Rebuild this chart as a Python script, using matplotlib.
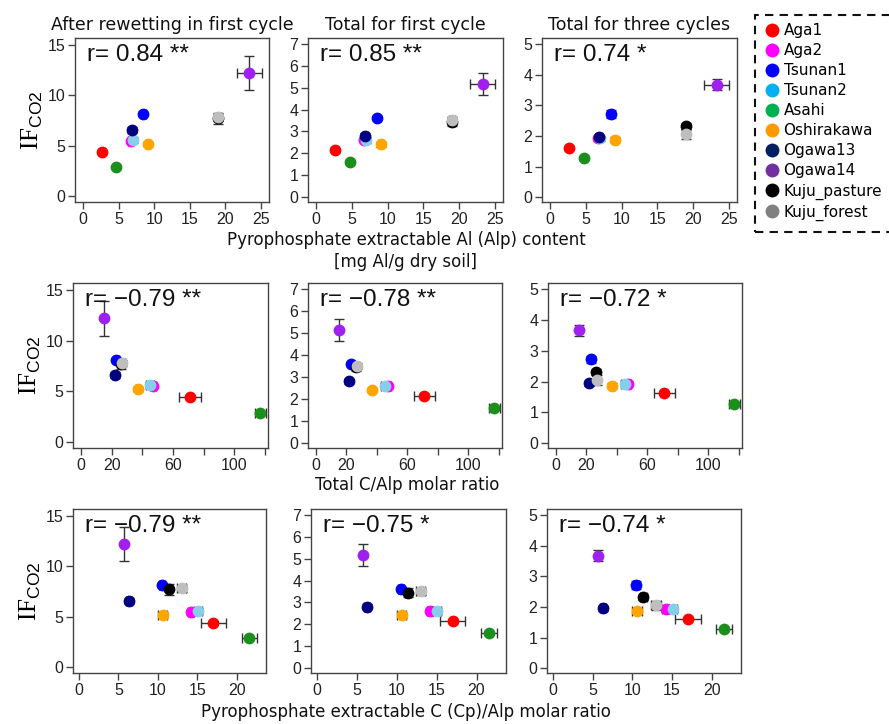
import numpy as np
import matplotlib.pyplot as plt
from matplotlib.patches import Rectangle
from matplotlib.lines import Line2D

plt.rcParams['mathtext.fontset'] = 'custom'
plt.rcParams['mathtext.rm'] = 'Liberation Serif'
plt.rcParams['mathtext.sf'] = 'Liberation Sans'

# Sites and colours (plot colours differ a bit from the legend ones)
sites = ['Aga1', 'Aga2', 'Tsunan1', 'Tsunan2', 'Asahi', 'Oshirakawa',
         'Ogawa13', 'Ogawa14', 'Kuju_pasture', 'Kuju_forest']
plot_colors = ['#FF0000', '#FF00FF', '#0000FF', '#87CEEB', '#1B8F1B',
               '#FFA500', '#000080', '#A020F0', '#000000', '#BEBEBE']
legend_colors = ['#FF0000', '#FF00FF', '#0000FF', '#00B0F0', '#00B050',
                 '#FF9900', '#002060', '#7030A0', '#000000', '#808080']

# x variables (one per row)
alp = [2.7, 6.7, 8.5, 7.0, 4.7, 9.1, 6.9, 23.3, 19.0, 19.0]
alp_err = [0.2, 0.3, 0.3, 0.3, 0.2, 0.3, 0.3, 1.75, 0.3, 0.4]
tc_alp = [71, 47, 23, 45, 117, 37, 22, 15, 26, 27]
tc_alp_err = [7, 2, 1.5, 2.5, 3.5, 1, 1, 1, 1, 1.5]
cp_alp = [17.0, 14.2, 10.5, 15.1, 21.6, 10.6, 6.3, 5.7, 11.4, 13.0]
cp_alp_err = [1.6, 0.4, 0.4, 0.5, 1.0, 0.6, 0.4, 0.2, 0.4, 0.6]

# y variables (one per column)
if_rewet = [4.4, 5.5, 8.1, 5.6, 2.9, 5.2, 6.6, 12.2, 7.7, 7.8]
if_rewet_err = [0.2, 0.2, 0.2, 0.3, 0.2, 0.2, 0.3, 1.7, 0.5, 0.3]
if_first = [2.15, 2.6, 3.6, 2.6, 1.6, 2.4, 2.8, 5.15, 3.45, 3.5]
if_first_err = [0.08, 0.1, 0.1, 0.12, 0.08, 0.1, 0.12, 0.5, 0.2, 0.15]
if_three = [1.62, 1.93, 2.72, 1.93, 1.27, 1.87, 1.95, 3.67, 2.31, 2.05]
if_three_err = [0.06, 0.08, 0.12, 0.08, 0.06, 0.08, 0.08, 0.18, 0.1, 0.15]

titles = ['After rewetting in first cycle', 'Total for first cycle',
          'Total for three cycles']
r_text = [['r= 0.84 **', 'r= 0.85 **', 'r= 0.74 *'],
          ['r= \u22120.79 **', 'r= \u22120.78 **', 'r= \u22120.72 *'],
          ['r= \u22120.79 **', 'r= \u22120.75 *', 'r= \u22120.74 *']]

xs = [(alp, alp_err), (tc_alp, tc_alp_err), (cp_alp, cp_alp_err)]
ys = [(if_rewet, if_rewet_err), (if_first, if_first_err),
      (if_three, if_three_err)]

x_lims = [(-1.1, 26.1), (-5.2, 122), (-0.76, 23.7)]
x_ticks = [np.arange(0, 26, 5), np.arange(0, 121, 20), np.arange(0, 21, 5)]
x_ticklabels = [None, ['0', '20', '', '60', '', '100', ''], None]
y_lims = [(-0.6, 15.7), (-0.23, 7.27), (-0.16, 5.2)]
y_ticks = [[0, 5, 10, 15], np.arange(0, 8), np.arange(0, 6)]

# panel boxes in pixels (left, top, right, bottom)
W, H = 889, 724
boxes = [[(75, 38, 269, 202), (308, 38, 503, 202), (542, 38, 737, 202)],
         [(73, 283, 268, 448), (308, 283, 502, 448), (548, 283, 742, 448)],
         [(73, 509, 266, 673), (311, 509, 506, 673), (547, 509, 741, 673)]]

fig = plt.figure(figsize=(W / 100, H / 100), dpi=100)

for i in range(3):
    for j in range(3):
        l, t, r, b = boxes[i][j]
        ax = fig.add_axes([l / W, 1 - b / H, (r - l) / W, (b - t) / H])
        xv, xe = xs[i]
        yv, ye = ys[j]
        for k in range(len(sites)):
            ax.errorbar(xv[k], yv[k], xerr=xe[k], yerr=ye[k], fmt='none',
                        ecolor='#333333', elinewidth=1, capsize=3.5,
                        capthick=1, zorder=2)
            ax.plot(xv[k], yv[k], 'o', color=plot_colors[k], ms=8.5,
                    mec='none', zorder=3)
        ax.set_xlim(x_lims[i])
        ax.set_ylim(y_lims[j])
        ax.set_xticks(x_ticks[i])
        if x_ticklabels[i] is not None:
            ax.set_xticklabels(x_ticklabels[i])
        ax.set_yticks(y_ticks[j])
        for s in ax.spines.values():
            s.set_color('#444444')
            s.set_linewidth(1)
        ax.tick_params(direction='out', length=5, width=1, color='#444444',
                       labelsize=11.5, labelcolor='#222222', pad=2)
        for lab in ax.get_xticklabels() + ax.get_yticklabels():
            lab.set_family(['Liberation Sans', 'DejaVu Sans'])
        ax.text(0.06, 0.965, r_text[i][j], transform=ax.transAxes,
                ha='left', va='top', fontsize=17.5,
                family=['Liberation Sans', 'DejaVu Sans'], color='#111111')
        if i == 0:
            ax.set_title(titles[j], fontsize=12.5, pad=6, color='#111111')
        if j == 0:
            ax.set_ylabel(r'$\mathrm{IF}_{\mathsf{CO2}}$', fontsize=18,
                          labelpad=2)

# x axis labels
fig.text(406 / W, 1 - 251 / H,
         'Pyrophosphate extractable Al (Alp) content\n[mg Al/g dry soil]',
         ha='center', va='center', fontsize=12, linespacing=1.3,
         color='#111111')
fig.text(407 / W, 1 - 485 / H, 'Total C/Alp molar ratio', ha='center',
         va='center', fontsize=12, color='#111111')
fig.text(406 / W, 1 - 712 / H,
         'Pyrophosphate extractable C (Cp)/Alp molar ratio', ha='center',
         va='center', fontsize=12, color='#111111')

# legend with dashed frame running off the right edge
fig.patches.append(Rectangle((755 / W, 1 - 232 / H), 160 / W, 217 / H,
                             transform=fig.transFigure, fill=False,
                             ls=(0, (4, 3)), lw=1.5, ec='#111111'))
handles = [Line2D([], [], ls='none', marker='o', ms=10, mec='none',
                  color=c) for c in legend_colors]
leg = fig.legend(handles, sites, loc='upper left',
                 bbox_to_anchor=(766 / W, 1 - 23 / H), frameon=False,
                 fontsize=11, handlelength=0.8, handletextpad=0.35,
                 labelspacing=0.33, borderaxespad=0, borderpad=0)

plt.savefig('out.png', dpi=100)
